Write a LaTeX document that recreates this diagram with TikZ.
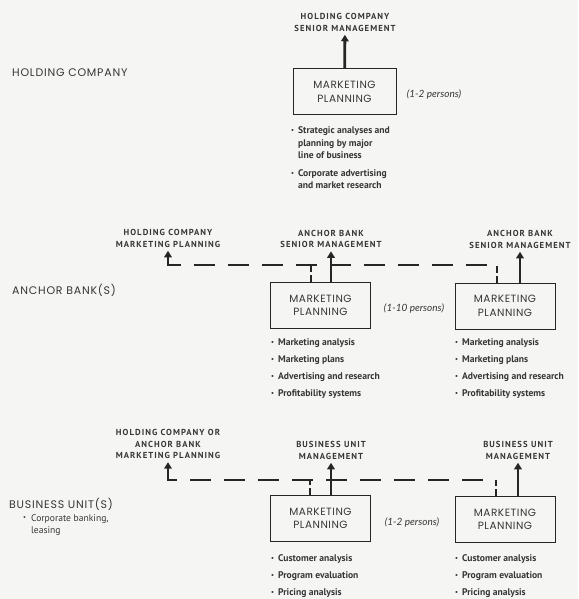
\documentclass[tikz,border=0pt]{standalone}
\usepackage{xcolor}
\usepackage{fontspec}
\usepackage{tikz}
\usetikzlibrary{arrows,arrows.meta}
\setmainfont{PT Sans}
\newfontfamily\headfont[LetterSpace=12.0]{PT Sans}
\newfontfamily\boxfont[LetterSpace=5.0]{Poppins}
\newfontfamily\levelfont[LetterSpace=7.0]{Poppins}
\newfontfamily\notefont{Lato}

\definecolor{paper}{HTML}{F5F5F3}
\definecolor{ink}{HTML}{363636}
\definecolor{wire}{HTML}{262626}

\newcommand{\dotitem}{\raisebox{0.25ex}{\fontsize{6.5}{6.5}\selectfont\textbullet}}

\tikzset{
	plan/.style={draw=wire, line width=1pt, minimum width=100pt, minimum height=46pt, align=center, text=ink, font=\boxfont\fontsize{10.5}{13.5}\selectfont},
	head/.style={align=center, text=ink, inner sep=1pt, font=\headfont\bfseries\fontsize{8.7}{11.8}\selectfont},
	level/.style={anchor=west, inner sep=0pt, text=ink, font=\levelfont\fontsize{11}{12}\selectfont},
	staff/.style={text=ink, font=\notefont\itshape\fontsize{10}{12}\selectfont},
	tasks/.style={anchor=north west, align=left, inner sep=0pt, text=ink, font=\bfseries\fontsize{9.6}{12.5}\selectfont},
	report/.style={draw=wire, line width=2.8pt, -{Triangle[width=7.5pt,length=6.5pt]}},
	liaison/.style={draw=wire, line width=2.8pt, dash pattern=on 21pt off 13pt, {Triangle[width=7.5pt,length=6.5pt]}-},
	drop/.style={draw=wire, line width=2.8pt, dash pattern=on 7pt off 3pt},
}

\begin{document}
\begin{tikzpicture}[x=1pt, y=-1pt]

	\fill[paper] (0,0) rectangle (578,599);
	\useasboundingbox (0,0) rectangle (578,599);

	% holding company
	\node[level] (HoldingLevel) at (12, 73) {HOLDING COMPANY};
	\node[head] (HoldingSenior) at (345, 22.5) {HOLDING COMPANY\\SENIOR MANAGEMENT};
	\node[plan, minimum width=103pt] (HoldingPlan) at (344.5, 92) {MARKETING\\PLANNING};
	\node[staff] (HoldingStaff) at (434, 94) {(1-2 persons)};
	\node[tasks] (HoldingTasks) at (291, 125) {\begin{tabular}[t]{@{}l@{\hspace{4pt}}l@{}}
		\dotitem & Strategic analyses and\\
		& planning by major\\
		& line of business\\[5pt]
		\dotitem & Corporate advertising\\
		& and market research
	\end{tabular}};

	\draw[report, shorten >=2pt] (HoldingPlan) -- (HoldingSenior);

	% anchor banks
	\node[level] (AnchorLevel) at (12, 290) {ANCHOR BANK(S)};
	\node[head] (AnchorHolding) at (168, 238.5) {HOLDING COMPANY\\MARKETING PLANNING};
	\node[head] (AnchorSeniorA) at (331, 239) {ANCHOR BANK\\SENIOR MANAGEMENT};
	\node[head] (AnchorSeniorB) at (520, 239.5) {ANCHOR BANK\\SENIOR MANAGEMENT};
	\node[plan] (AnchorPlanA) at (320.5, 305.5) {MARKETING\\PLANNING};
	\node[plan] (AnchorPlanB) at (505, 306) {MARKETING\\PLANNING};
	\node[staff] (AnchorStaff) at (414, 308) {(1-10 persons)};
	\node[tasks] (AnchorTasksA) at (271, 337) {\begin{tabular}[t]{@{}l@{\hspace{4pt}}l@{}}
		\dotitem & Marketing analysis\\[4.5pt]
		\dotitem & Marketing plans\\[4.5pt]
		\dotitem & Advertising and research\\[4.5pt]
		\dotitem & Profitability systems
	\end{tabular}};
	\node[tasks] (AnchorTasksB) at (455, 337) {\begin{tabular}[t]{@{}l@{\hspace{4pt}}l@{}}
		\dotitem & Marketing analysis\\[4.5pt]
		\dotitem & Marketing plans\\[4.5pt]
		\dotitem & Advertising and research\\[4.5pt]
		\dotitem & Profitability systems
	\end{tabular}};

	\coordinate (AnchorDropA) at (311, 265);
	\coordinate (AnchorDropB) at (497, 265);
	\draw[report, shorten >=2pt] (AnchorSeniorA.south |- AnchorPlanA.north) -- (AnchorSeniorA.south);
	\draw[report, shorten >=2pt] (AnchorSeniorB.south |- AnchorPlanB.north) -- (AnchorSeniorB.south);
	\draw[drop] (AnchorPlanA.north -| AnchorDropA) -- (AnchorDropA);
	\draw[drop] (AnchorPlanB.north -| AnchorDropB) -- (AnchorDropB);
	\draw[liaison, shorten <=2pt] (AnchorHolding.south) -- (AnchorDropB -| AnchorHolding.south) -- (AnchorDropB);

	% business units
	\node[level] (UnitLevel) at (9, 504) {BUSINESS UNIT(S)};
	\node[tasks, font=\fontsize{9.6}{12}\selectfont] (UnitKinds) at (23, 512.5) {\begin{tabular}[t]{@{}l@{\hspace{5pt}}l@{}}
		\dotitem & Corporate banking,\\
		& leasing
	\end{tabular}};
	\node[head] (UnitHolding) at (168, 444) {HOLDING COMPANY OR\\ANCHOR BANK\\MARKETING PLANNING};
	\node[head] (UnitManageA) at (331, 450.5) {BUSINESS UNIT\\MANAGEMENT};
	\node[head] (UnitManageB) at (518, 450.5) {BUSINESS UNIT\\MANAGEMENT};
	\node[plan] (UnitPlanA) at (320.5, 518.5) {MARKETING\\PLANNING};
	\node[plan] (UnitPlanB) at (505, 519.5) {MARKETING\\PLANNING};
	\node[staff] (UnitStaff) at (412, 522) {(1-2 persons)};
	\node[tasks] (UnitTasksA) at (271, 553) {\begin{tabular}[t]{@{}l@{\hspace{4pt}}l@{}}
		\dotitem & Customer analysis\\[4.5pt]
		\dotitem & Program evaluation\\[4.5pt]
		\dotitem & Pricing analysis
	\end{tabular}};
	\node[tasks] (UnitTasksB) at (455, 553) {\begin{tabular}[t]{@{}l@{\hspace{4pt}}l@{}}
		\dotitem & Customer analysis\\[4.5pt]
		\dotitem & Program evaluation\\[4.5pt]
		\dotitem & Pricing analysis
	\end{tabular}};

	\coordinate (UnitDropA) at (310, 480);
	\coordinate (UnitDropB) at (496, 480);
	\draw[report, shorten >=2pt] (UnitManageA.south |- UnitPlanA.north) -- (UnitManageA.south);
	\draw[report, shorten >=2pt] (UnitManageB.south |- UnitPlanB.north) -- (UnitManageB.south);
	\draw[drop] (UnitPlanA.north -| UnitDropA) -- (UnitDropA);
	\draw[drop] (UnitPlanB.north -| UnitDropB) -- (UnitDropB);
	\draw[liaison, shorten <=2pt] (UnitHolding.south) -- (UnitDropB -| UnitHolding.south) -- (UnitDropB);

\end{tikzpicture}
\end{document}
